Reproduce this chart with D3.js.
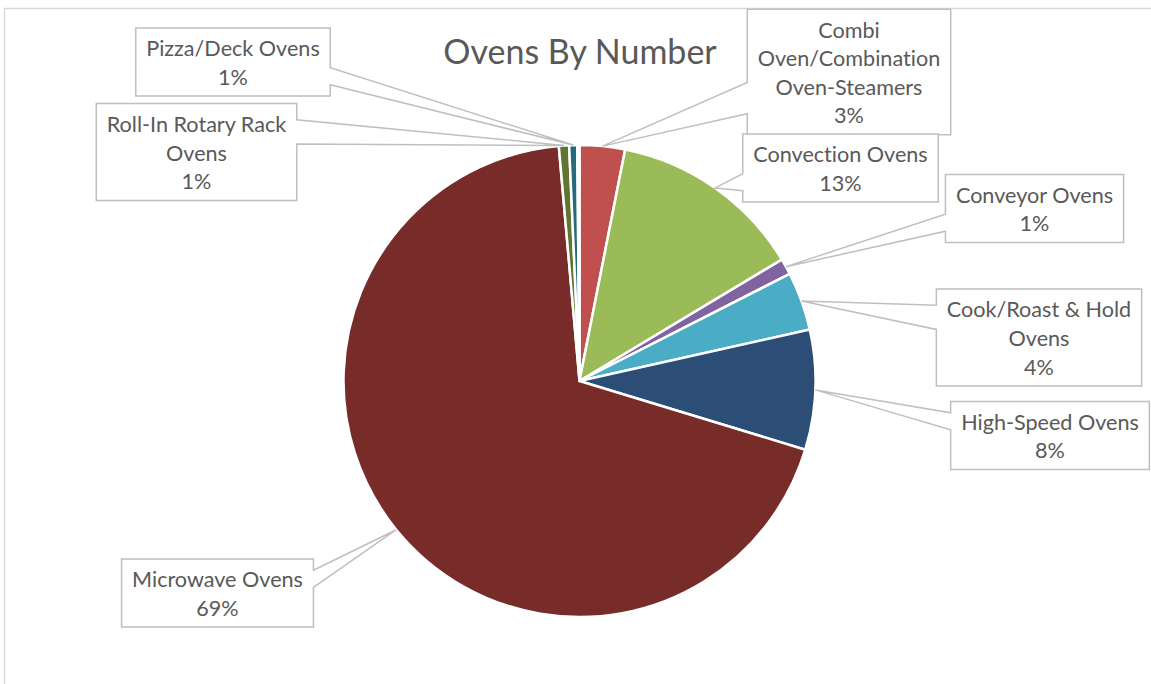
<!DOCTYPE html>
<html>
<head>
<meta charset="utf-8">
<script src="https://cdn.jsdelivr.net/npm/d3@7"></script>
<style>
  html, body { margin: 0; padding: 0; background: #ffffff; }
  svg { display: block; }
  text { font-variant-ligatures: none; font-feature-settings: "liga" 0; }
</style>
</head>
<body>
<svg id="chart" width="1151" height="684"></svg>
<script>
// ---- data ----
const categories = [
  "Combi Oven/Combination Oven-Steamers",
  "Convection Ovens",
  "Conveyor Ovens",
  "Cook/Roast & Hold Ovens",
  "High-Speed Ovens",
  "Microwave Ovens",
  "Roll-In Rotary Rack Ovens",
  "Pizza/Deck Ovens",
  "Other Ovens"
];
const shares = [3.1, 13.3, 1.1, 4.0, 8.2, 68.9, 0.7, 0.55, 0.15];
// wrapped label text per category (null = no callout)
const labelLines = [
  ["Combi", "Oven/Combination", "Oven-Steamers"],
  ["Convection Ovens"],
  ["Conveyor Ovens"],
  ["Cook/Roast & Hold", "Ovens"],
  ["High-Speed Ovens"],
  ["Microwave Ovens"],
  ["Roll-In Rotary Rack", "Ovens"],
  ["Pizza/Deck Ovens"],
  null
];
const title = "Ovens By Number";

// ---- styling / layout ----
const colors = ["#C0504D", "#9BBB59", "#8064A2", "#4BACC6", "#2C4D75",
                "#772C2A", "#5F7530", "#276A7C", "#F79646"];
// callout box centres
const calloutCenters = [
  [849, 72], [840.5, 168], [1034.5, 208.5], [1039, 337.5],
  [1050, 435.5], [217.5, 593], [196.5, 152], [233, 62], null
];
const W = 1151, H = 684;
const cx = 579.5, cy = 381, R = 236;
const FONT = "Lato, 'Open Sans', sans-serif";
const TEXT = "#595959";
const LINE_H = 28.6, LABEL_SIZE = 21.6;

const svg = d3.select("#chart");
svg.append("rect").attr("width", W).attr("height", H).attr("fill", "#fff");

// chart area frame
svg.append("rect")
  .attr("x", 4.5).attr("y", 8.5).attr("width", 1200).attr("height", 800)
  .attr("fill", "none").attr("stroke", "#D9D9D9").attr("stroke-width", 1.5);

// title
svg.append("text")
  .attr("x", 580).attr("y", 64)
  .attr("text-anchor", "middle")
  .attr("font-family", FONT).attr("font-size", 34)
  .attr("fill", TEXT)
  .text(title);

// ---- pie ----
const data = categories.map((c, i) => ({ cat: c, value: shares[i], i }));
const total = d3.sum(shares);
const pie = d3.pie().value(d => d.value).sort(null).startAngle(0).endAngle(2 * Math.PI);
const arcs = pie(data);
const arc = d3.arc().innerRadius(0).outerRadius(R);

const g = svg.append("g").attr("transform", `translate(${cx},${cy})`);
g.selectAll("path.slice").data(arcs).join("path")
  .attr("class", "slice")
  .attr("d", arc)
  .attr("fill", d => colors[d.data.i])
  .attr("stroke", "#fff")
  .attr("stroke-width", 2.5)
  .attr("stroke-linejoin", "round");

// ---- wedge callouts ----
const pct = d3.format(".0%");
const cg = svg.append("g");

// measuring helper
const meas = svg.append("text").attr("font-family", FONT).attr("font-size", LABEL_SIZE)
  .attr("visibility", "hidden");
function textWidth(s) { meas.text(s); return meas.node().getComputedTextLength(); }

function wedgePath(x, y, w, h, tx, ty) {
  const dxPos = tx - (x + w / 2), dyPos = ty - (y + h / 2);
  const horiz = Math.abs(dxPos * h) > Math.abs(dyPos * w);
  const p = d3.path();
  if (horiz) {
    const y1 = y + h * (dyPos >= 0 ? 7 : 2) / 12;
    const y2 = y + h * (dyPos >= 0 ? 10 : 5) / 12;
    p.moveTo(x, y);
    p.lineTo(x + w, y);
    if (dxPos > 0) { p.lineTo(x + w, y1); p.lineTo(tx, ty); p.lineTo(x + w, y2); }
    p.lineTo(x + w, y + h);
    p.lineTo(x, y + h);
    if (dxPos < 0) { p.lineTo(x, y2); p.lineTo(tx, ty); p.lineTo(x, y1); }
    p.closePath();
  } else {
    const x1 = x + w * (dxPos >= 0 ? 7 : 2) / 12;
    const x2 = x + w * (dxPos >= 0 ? 10 : 5) / 12;
    p.moveTo(x, y);
    if (dyPos < 0) { p.lineTo(x1, y); p.lineTo(tx, ty); p.lineTo(x2, y); }
    p.lineTo(x + w, y);
    p.lineTo(x + w, y + h);
    if (dyPos > 0) { p.lineTo(x2, y + h); p.lineTo(tx, ty); p.lineTo(x1, y + h); }
    p.lineTo(x, y + h);
    p.closePath();
  }
  return p.toString();
}

arcs.forEach(a => {
  const i = a.data.i;
  if (!labelLines[i]) return;
  const lines = labelLines[i].concat([pct(a.data.value / total)]);
  const mid = (a.startAngle + a.endAngle) / 2;
  const tx = cx + R * Math.sin(mid), ty = cy - R * Math.cos(mid);
  const tw = d3.max(lines, textWidth);
  const w = tw + 21, h = lines.length * LINE_H + 11;
  const [bx, by] = calloutCenters[i];
  const x = bx - w / 2, y = by - h / 2;
  cg.append("path")
    .attr("d", wedgePath(x, y, w, h, tx, ty))
    .attr("fill", "#fff")
    .attr("stroke", "#BFBFBF")
    .attr("stroke-width", 1.5);
  const t = cg.append("text")
    .attr("font-family", FONT).attr("font-size", LABEL_SIZE)
    .attr("fill", TEXT).attr("text-anchor", "middle");
  lines.forEach((ln, k) => {
    t.append("tspan").attr("x", bx).attr("y", y + 28.3 + k * LINE_H).text(ln);
  });
});
meas.remove();
</script>
</body>
</html>
